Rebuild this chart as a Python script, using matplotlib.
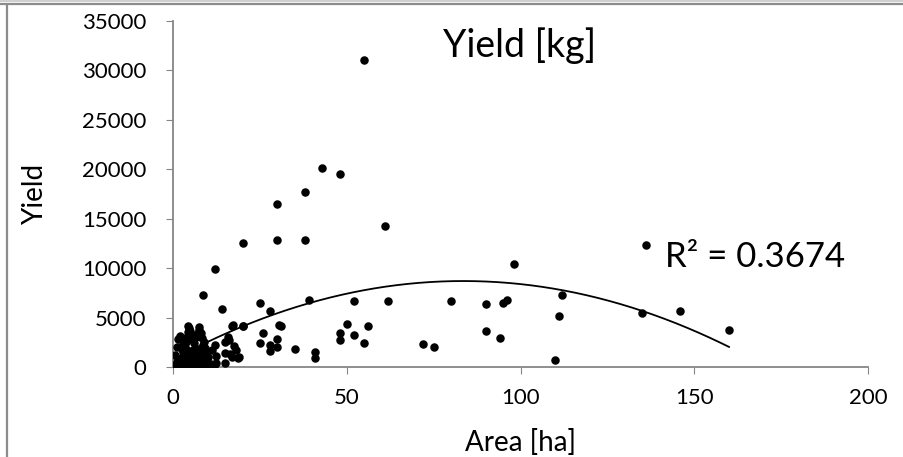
import numpy as np
import matplotlib.pyplot as plt
from matplotlib.lines import Line2D

# scattered points
area = [55, 43, 48, 38, 30, 38, 20, 30, 12, 8.5, 14, 25, 39, 28, 17, 20, 26,
        30.5, 31, 30, 25, 28, 30, 28, 35, 41, 41, 15, 15.8, 17.6, 18, 19, 17,
        15, 15, 61, 98, 52, 62, 80, 90, 95, 96, 50, 56, 48, 48, 52, 55, 72,
        75, 90, 94, 136, 112, 111, 110, 135, 146, 160, 17.3, 20, 16, 16.4,
        18.7, 11.2, 12, 9.2, 12.5]
yield_kg = [31100, 20100, 19500, 17700, 16500, 12800, 12500, 12800, 9900,
            7300, 5900, 6500, 6800, 5700, 4200, 4100, 3400, 4300, 4100, 2800,
            2400, 2200, 2000, 1600, 1800, 1500, 900, 2500, 3000, 2100, 1700,
            1000, 1000, 400, 1400, 14300, 10400, 6700, 6700, 6700, 6400, 6500,
            6800, 4400, 4200, 3400, 2700, 3200, 2400, 2300, 2000, 3600, 2900,
            12300, 7300, 5200, 700, 5500, 5700, 3700, 4300, 4200, 2700, 1300,
            900, 1700, 2200, 900, 1100]

# dense cluster near the origin
area_small = [0.2, 0.5, 0.8, 1, 1.2, 1.5, 1.8, 2, 2.2, 2.5, 2.8, 3, 3.2, 3.5,
              3.8, 4, 4.2, 4.5, 4.8, 5, 5.3, 5.6, 6, 6.3, 6.7, 7, 7.3, 7.7, 8,
              8.3, 8.7, 9, 9.5, 10, 10.5, 11, 11.8, 12.5,
              3, 3.5, 3.8, 4, 4.3, 4.6, 5, 5.2, 5.5, 5.8, 6, 6.5, 7, 7.5, 8,
              8.3, 8.6, 8.8, 9.2, 9.6, 10, 4.5, 2.5, 2.8, 3.3, 6.2, 7.8, 9,
              1.5, 1.2, 2, 0.6, 4.2, 7.6]
yield_small = [50, 150, 300, 80, 500, 200, 700, 100, 400, 900, 250, 600, 1100,
               50, 350, 800, 1300, 150, 500, 1000, 250, 700, 100, 450, 900,
               200, 600, 1200, 50, 350, 800, 150, 500, 250, 100, 350, 150, 400,
               1500, 2000, 2500, 3000, 3500, 3900, 3600, 3200, 2800, 1700,
               2400, 3000, 3300, 3700, 3400, 2900, 2200, 1600, 1900, 1400,
               1000, 1600, 1800, 2300, 2700, 1300, 1800, 2500,
               2800, 2000, 3100, 1200, 4200, 4000]

# 2nd order trendline coefficients (c0 + c1*x + c2*x^2)
trend_coef = [759, 190.2, -1.139]
r_squared = 0.3674

plt.rcParams['font.family'] = ['Lato', 'DejaVu Sans']

fig = plt.figure(figsize=(9.04, 4.57), dpi=100)
ax = fig.add_axes([0.1914, 0.1969, 0.7688, 0.757])

ax.scatter(area, yield_kg, s=26, color='black', zorder=3)
ax.scatter(area_small, yield_small, s=26, color='black', zorder=3)

all_x = np.array(area + area_small)
xs = np.linspace(all_x.min(), all_x.max(), 200)
ys = trend_coef[0] + trend_coef[1] * xs + trend_coef[2] * xs ** 2
ax.plot(xs, ys, color='black', lw=1.3, zorder=2)

ax.set_xlim(0, 200)
ax.set_ylim(0, 35000)
ax.set_xticks([0, 50, 100, 150, 200])
ax.set_yticks(np.arange(0, 35001, 5000))

for s in ['top', 'right']:
    ax.spines[s].set_visible(False)
for s in ['left', 'bottom']:
    ax.spines[s].set_color('#868686')
    ax.spines[s].set_linewidth(1.3)
ax.tick_params(axis='x', direction='out', length=5, color='#868686',
               labelsize=16, pad=10)
ax.tick_params(axis='y', direction='out', length=5, color='#868686',
               labelsize=16, pad=14)

ax.set_xlabel('Area [ha]', fontsize=20)
ax.set_ylabel('Yield', fontsize=20)
ax.xaxis.set_label_coords(0.5, -0.18)
ax.yaxis.set_label_coords(-0.18, 0.5)
ax.text(0.498, 0.928, 'Yield [kg]', transform=ax.transAxes, fontsize=27,
        ha='center', va='center')
ax.text(141.6, 11130, 'R² = 0.3674', fontsize=25, ha='left', va='center')

# outer frame lines
fig.add_artist(Line2D([0, 1], [0.9905, 0.9905], transform=fig.transFigure,
                      color='#8c8c8c', lw=1.6))
fig.add_artist(Line2D([0, 1], [0.998, 0.998], transform=fig.transFigure,
                      color='#d0d0d0', lw=1.5))
fig.add_artist(Line2D([0.0077, 0.0077], [0, 0.99], transform=fig.transFigure,
                      color='#8c8c8c', lw=1.6))

fig.savefig('out.png', dpi=100)
